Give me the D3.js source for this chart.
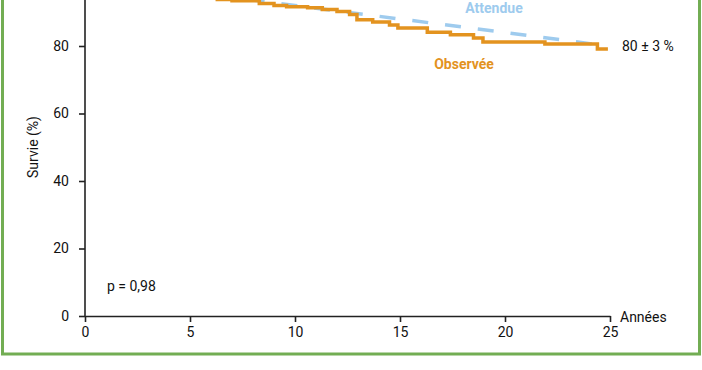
<!DOCTYPE html>
<html>
<head>
<meta charset="utf-8">
<script src="https://cdn.jsdelivr.net/npm/d3@7"></script>
<style>
  body { margin: 0; background: #fff; }
  svg text { font-family: Roboto, "DejaVu Sans", sans-serif; }
</style>
</head>
<body>
<div id="chart"></div>
<script>
// Survival data (years, %)
var obsYears  = [0, 0.6, 1.4, 2.3, 3.1, 4.0, 4.8, 5.6, 6.3, 7.0, 8.3, 9.0, 9.6, 10.6, 11.3, 12.0, 12.6, 12.95, 13.7, 14.5, 14.9, 16.3, 17.4, 18.5, 18.95, 21.9, 24.4, 24.9];
var obsValues = [100, 99.4, 98.8, 98.1, 97.4, 96.6, 95.8, 94.8, 93.8, 93.4, 92.6, 92.0, 91.6, 91.3, 90.8, 90.2, 89.3, 87.8, 87.1, 86.2, 85.3, 84.1, 83.3, 82.4, 81.2, 80.6, 79.1, 79.1];

var expYears  = [0, 5, 10, 15, 20, 24.9];
var expValues = [100, 96, 92, 88, 84, 80];

var xTicks = [0, 5, 10, 15, 20, 25];
var yTicks = [0, 20, 40, 60, 80];   // 100 is cropped off at the top

var width = 702, height = 370;

var svg = d3.select("#chart").append("svg")
    .attr("width", width)
    .attr("height", height);

// green frame (top edge is cropped off in the original)
svg.append("rect")
    .attr("x", 2.5).attr("y", -40)
    .attr("width", 697).attr("height", 394)
    .attr("fill", "none")
    .attr("stroke", "#72ad53")
    .attr("stroke-width", 3);

var x = d3.scaleLinear().domain([0, 25]).range([85, 610]);
var y = d3.scaleLinear().domain([0, 100]).range([316, -21.5]);

var xAxis = svg.append("g")
    .attr("transform", "translate(0," + y(0) + ")")
    .call(d3.axisBottom(x).tickValues(xTicks).tickSize(6).tickSizeOuter(0).tickPadding(5));

var yAxis = svg.append("g")
    .attr("transform", "translate(" + x(0) + ",0)")
    .call(d3.axisLeft(y).tickValues(yTicks).tickSize(6).tickSizeOuter(0).tickPadding(10));

// extend the y axis line up past the top edge
yAxis.select(".domain").attr("d", "M0," + y(0) + "V" + y(100));

[xAxis, yAxis].forEach(function(a) {
    a.selectAll("path, line").attr("stroke", "#222").attr("stroke-width", 1.6);
    a.selectAll("text").attr("font-size", 14).attr("fill", "#111")
        .style("font-family", "Roboto, 'DejaVu Sans', sans-serif");
});

var line = d3.line()
    .x(function(d) { return x(d[0]); })
    .y(function(d) { return y(d[1]); });

var expData = d3.zip(expYears, expValues);
var obsData = d3.zip(obsYears, obsValues);

svg.append("path")
    .datum(expData)
    .attr("fill", "none")
    .attr("stroke", "#9ecbee")
    .attr("stroke-width", 3.5)
    .attr("stroke-dasharray", "16,17")
    .attr("d", line);

svg.append("path")
    .datum(obsData)
    .attr("fill", "none")
    .attr("stroke", "#e3931f")
    .attr("stroke-width", 3.5)
    .attr("d", line.curve(d3.curveStepAfter));

// labels
svg.append("text").attr("x", 494).attr("y", 13).attr("text-anchor", "middle")
    .attr("font-size", 14).attr("font-weight", "bold").attr("fill", "#9ecbee").text("Attendue");
svg.append("text").attr("x", 464).attr("y", 69).attr("text-anchor", "middle")
    .attr("font-size", 14).attr("font-weight", "bold").attr("fill", "#e3931f").text("Observée");
svg.append("text").attr("x", 622).attr("y", 51)
    .attr("font-size", 14).attr("fill", "#111").text("80 ± 3 %");
svg.append("text").attr("x", 107).attr("y", 291)
    .attr("font-size", 14).attr("fill", "#111").text("p = 0,98");
svg.append("text").attr("x", 620).attr("y", 322)
    .attr("font-size", 14).attr("fill", "#111").text("Années");
svg.append("text")
    .attr("transform", "translate(38,147) rotate(-90)")
    .attr("text-anchor", "middle")
    .attr("font-size", 14).attr("fill", "#111").text("Survie (%)");
</script>
</body>
</html>
